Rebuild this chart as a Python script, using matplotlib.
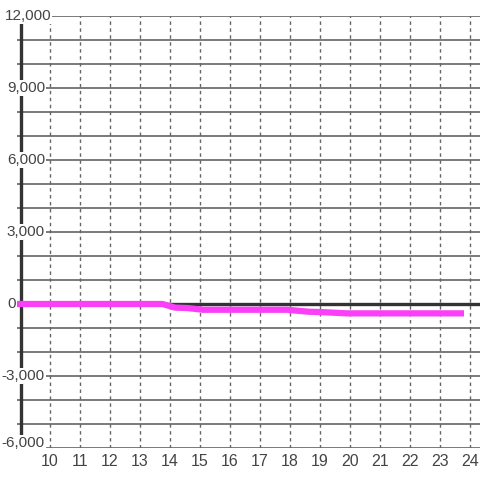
import matplotlib.pyplot as plt
from matplotlib.transforms import blended_transform_factory, offset_copy

# data
hours = [8.9, 13.75, 14.17, 14.6, 15.1, 17.9, 18.6, 19.1, 19.9, 23.8]
values = [0, 0, -150, -170, -240, -240, -320, -340, -390, -390]

x_ticks = list(range(10, 25))
y_grid = list(range(-6000, 12001, 1000))
y_labels = list(range(-6000, 12001, 3000))

plt.rcParams['font.family'] = ['Liberation Sans', 'DejaVu Sans']

fig = plt.figure(figsize=(4.8, 4.8), dpi=100)
ax = fig.add_axes([17 / 480, 32 / 480, 463 / 480, 432 / 480])
ax.set_xlim(8.9, 8.9 + 463 / 30)
ax.set_ylim(-6000, 12000)

for s in ax.spines.values():
    s.set_visible(False)

# grid
for v in y_grid:
    ax.axhline(v, color='#707070', lw=1.3, zorder=1)
for x in x_ticks:
    ax.axvline(x, color='#666666', lw=1.0, ls=(0, (2.5, 2.5)), zorder=1)

# axis lines
ax.axvline(9.03, color='#333333', lw=2.4, zorder=2)
ax.axhline(0, color='#333333', lw=2.4, zorder=2)

ax.plot(hours, values, color='#fb3ef7', lw=4.5, solid_capstyle='butt',
        solid_joinstyle='round', zorder=3)

# y labels sit over the grid with a white box; right edge in pixels
trans = blended_transform_factory(fig.transFigure, ax.transData)
label_right = {12000: 51, 0: 16}
label_up = {-6000: 5}
for v in y_labels:
    px = label_right.get(v, 45)
    t = offset_copy(trans, fig=fig, x=0, y=label_up.get(v, 0), units='dots')
    ax.text(px / 480, v, f"{v:,}", ha='right', va='center', fontsize=11,
            color='#444444', zorder=4, clip_on=False, transform=t,
            bbox=dict(facecolor='white', edgecolor='none', pad=1.0))

ax.set_xticks(x_ticks)
ax.set_xticklabels([str(x) for x in x_ticks], fontsize=11.5, color='#444444')
ax.tick_params(axis='x', length=0, pad=4.5)
ax.set_yticks([])

plt.savefig("out.png", dpi=100)
